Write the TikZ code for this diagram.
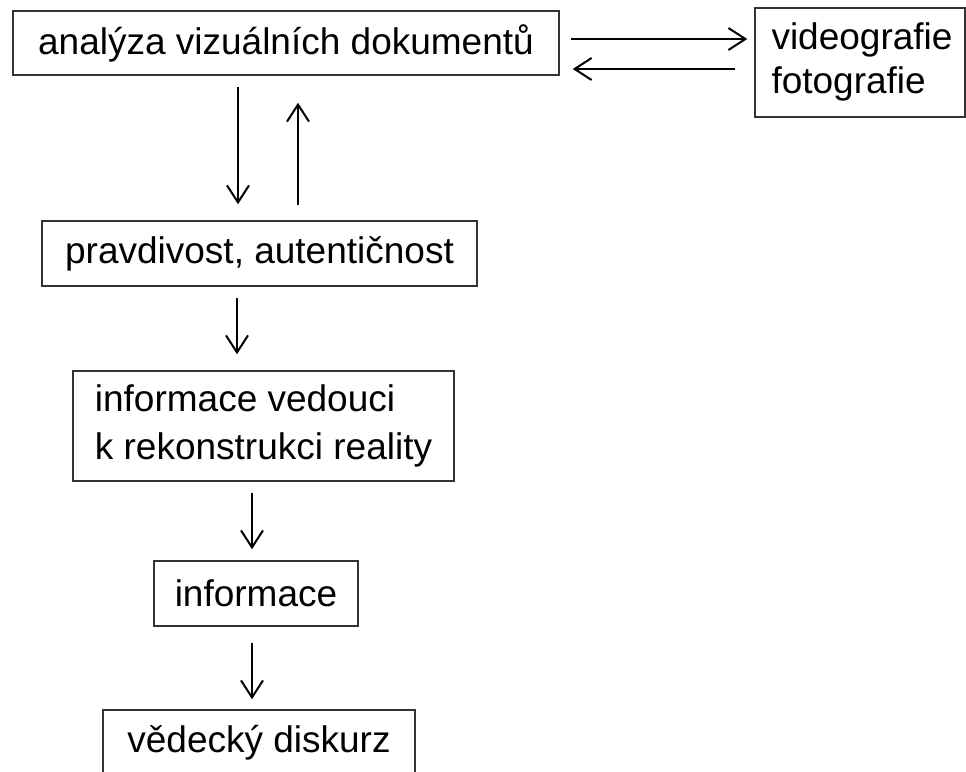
\documentclass[tikz,border=0pt]{standalone}
\usepackage{fontspec}
\setmainfont{Liberation Sans}
\usetikzlibrary{arrows.meta,calc}
\begin{document}
\begin{tikzpicture}[x=1pt,y=-1pt,
  box/.style={draw=black!80,line width=1.5pt,rectangle,inner sep=0pt,
    font=\fontsize{37}{44}\selectfont},
  arr/.style={draw=black,line width=2pt,-{Straight Barb[length=17pt,width=22pt,line width=2pt]}}]
\useasboundingbox (0,0) rectangle (966,771);
\clip (0,0) rectangle (966,771);
\node[box,minimum width=546pt,minimum height=64pt] (A) at (286,43) {\raisebox{-2pt}{analýza vizuálních dokumentů}};
\node[box,minimum width=210pt,minimum height=109pt,
  font=\fontsize{37}{44}\selectfont] (V) at (860,62.5) {\hspace*{4pt}\raisebox{-3pt}{\begin{tabular}{@{}l@{}}videografie\\fotografie\end{tabular}}};
\node[box,minimum width=435pt,minimum height=65pt] (P) at (259.5,253.5) {\raisebox{-2pt}{pravdivost, autentičnost}};
\node[box,minimum width=381pt,minimum height=110pt,
  font=\fontsize{37}{48}\selectfont] (I1) at (263.5,426) {\raisebox{-5pt}{\begin{tabular}{@{}l@{}}informace vedouci\\k rekonstrukci reality\end{tabular}}};
\node[box,minimum width=204pt,minimum height=65pt] (I2) at (256,593.5) {\raisebox{-2pt}{informace}};
\node[box,minimum width=312pt,minimum height=65pt] (D) at (259,742.5) {\raisebox{-2pt}{vědecký diskurz}};
% connectors
\draw[arr,shorten <=11pt,shorten >=16pt] ([xshift=-48pt]A.south) -- ([xshift=-48pt]A.south |- P.north);
\draw[arr,shorten <=15pt,shorten >=27pt] ([xshift=12pt]A.south |- P.north) -- ([xshift=12pt]A.south);
\draw[arr,shorten <=11pt,shorten >=16pt] ([xshift=-22.5pt]P.south) -- ([xshift=-22.5pt]P.south |- I1.north);
\draw[arr,shorten <=11pt,shorten >=11pt] ([xshift=-11.5pt]I1.south) -- ([xshift=-11.5pt]I1.south |- I2.north);
\draw[arr,shorten <=16pt,shorten >=10pt] ([xshift=-4pt]I2.south) -- ([xshift=-4pt]I2.south |- D.north);
\draw[arr,shorten <=11pt,shorten >=7pt] ([yshift=4pt]A.east) -- ([yshift=4pt]A.east -| V.west);
\draw[arr,shorten <=19pt,shorten >=13pt] ([yshift=-26pt]A.east -| V.west) -- ([yshift=-26pt]A.east);
\end{tikzpicture}
\end{document}
